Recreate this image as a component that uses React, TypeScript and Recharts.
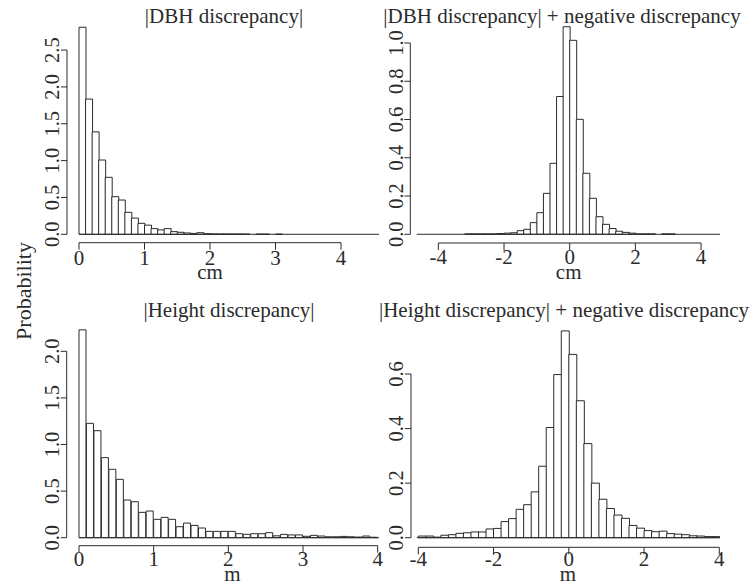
import React from "react";
import { BarChart, Bar, XAxis, YAxis, ReferenceLine } from "recharts";

const FONT = '"Liberation Serif", "Times New Roman", serif';
const INK = "#2b2b2b";

// |DBH discrepancy| (cm), bins of 0.1 starting at 0
const dbhAbsStart = 0;
const dbhAbsWidth = 0.1;
const dbhAbsDensity = [
  2.81, 1.835, 1.39, 1.008, 0.773, 0.51, 0.465, 0.298, 0.22, 0.149,
  0.124, 0.077, 0.059, 0.077, 0.036, 0.027, 0.018, 0.012, 0.022, 0.008,
  0.005, 0.004, 0.004, 0.003, 0.003, 0.002, 0, 0.002, 0.002, 0, 0.002,
];

// |DBH discrepancy| + negative discrepancy (cm), bins of 0.2 starting at -3.2
const dbhSignedStart = -3.2;
const dbhSignedWidth = 0.2;
const dbhSignedDensity = [
  0.002, 0.002, 0.002, 0.002, 0.002, 0.004, 0.006, 0.008, 0.019, 0.026,
  0.061, 0.113, 0.214, 0.371, 0.72, 1.085, 1.014, 0.601, 0.319, 0.188,
  0.092, 0.052, 0.03, 0.016, 0.01, 0.006, 0.002, 0.002, 0.002, 0, 0.002, 0.002,
];

// |Height discrepancy| (m), bins of 0.1 starting at 0
const heightAbsStart = 0;
const heightAbsWidth = 0.1;
const heightAbsDensity = [
  2.23, 1.227, 1.148, 0.859, 0.734, 0.626, 0.404, 0.386, 0.272, 0.286,
  0.197, 0.218, 0.197, 0.118, 0.157, 0.132, 0.104, 0.068, 0.068, 0.068,
  0.068, 0.043, 0.036, 0.043, 0.043, 0.054, 0.02, 0.036, 0.03, 0.03,
  0.015, 0.025, 0.018, 0.01, 0.01, 0.014, 0.01, 0.007, 0.018, 0.005,
];

// |Height discrepancy| + negative discrepancy (m), bins of 0.2 starting at -4
const heightSignedStart = -4;
const heightSignedWidth = 0.2;
const heightSignedDensity = [
  0.006, 0.006, 0.002, 0.009, 0.011, 0.016, 0.018, 0.021, 0.021, 0.032,
  0.034, 0.059, 0.07, 0.104, 0.121, 0.168, 0.262, 0.404, 0.598, 0.758,
  0.672, 0.502, 0.345, 0.2, 0.141, 0.107, 0.083, 0.071, 0.045, 0.035,
  0.026, 0.022, 0.024, 0.015, 0.013, 0.011, 0.007, 0.006, 0.004, 0.004,
];

const xTicksAbs = [0, 1, 2, 3, 4];
const xTicksSigned = [-4, -2, 0, 2, 4];
const yTicksDbhAbs = [0, 0.5, 1, 1.5, 2, 2.5];
const yTicksDbhSigned = [0, 0.2, 0.4, 0.6, 0.8, 1];
const yTicksHeightAbs = [0, 0.5, 1, 1.5, 2];
const yTicksHeightSigned = [0, 0.2, 0.4, 0.6];

const toBins = (start: number, width: number, density: number[]) =>
  density.map((p, i) => ({ mid: start + (i + 0.5) * width, p }));

interface PanelProps {
  data: { mid: number; p: number }[];
  left: number;
  top: number;
  width: number;
  height: number;
  marginTop: number;
  marginRight: number;
  yAxisWidth: number;
  xAxisHeight: number;
  xDomain: [number, number];
  yDomain: [number, number];
  xTicks: number[];
  yTicks: number[];
  baseline: [number, number];
  xLabelGap: number;
}

const Panel = (props: PanelProps) => {
  const {
    data, left, top, width, height, marginTop, marginRight,
    yAxisWidth, xAxisHeight, xDomain, yDomain, xTicks, yTicks, baseline, xLabelGap,
  } = props;

  const XTick = (t: any) => (
    <text
      x={t.x}
      y={t.y + xLabelGap - 7}
      textAnchor="middle"
      fill={INK}
      style={{ fontFamily: FONT, fontSize: 21 }}
    >
      {t.payload.value}
    </text>
  );

  const YTick = (t: any) => {
    const tx = t.x - 1.5;
    return (
      <text
        x={tx}
        y={t.y}
        transform={`rotate(-90 ${tx} ${t.y})`}
        textAnchor="middle"
        fill={INK}
        style={{ fontFamily: FONT, fontSize: 20.5 }}
      >
        {Number(t.payload.value).toFixed(1)}
      </text>
    );
  };

  return (
    <div style={{ position: "absolute", left, top, width, height }}>
      <BarChart
        width={width}
        height={height}
        data={data}
        margin={{ top: marginTop, right: marginRight, bottom: 0, left: 0 }}
        barCategoryGap={0}
        barGap={0}
      >
        <XAxis
          dataKey="mid"
          type="number"
          domain={xDomain}
          allowDataOverflow
          ticks={xTicks}
          interval={0}
          height={xAxisHeight}
          axisLine={false}
          tickLine={{ stroke: INK }}
          tickSize={7}
          tickMargin={0}
          tick={XTick}
        />
        <YAxis
          type="number"
          domain={yDomain}
          allowDataOverflow
          ticks={yTicks}
          interval={0}
          width={yAxisWidth}
          axisLine={false}
          tickLine={{ stroke: INK }}
          tickSize={6}
          tickMargin={0}
          tick={YTick}
        />
        <ReferenceLine
          segment={[{ x: baseline[0], y: 0 }, { x: baseline[1], y: 0 }]}
          stroke={INK}
          ifOverflow="visible"
        />
        <ReferenceLine
          segment={[
            { x: xTicks[0], y: yDomain[0] },
            { x: xTicks[xTicks.length - 1], y: yDomain[0] },
          ]}
          stroke={INK}
          ifOverflow="visible"
        />
        <ReferenceLine
          segment={[
            { x: xDomain[0], y: yTicks[0] },
            { x: xDomain[0], y: yTicks[yTicks.length - 1] },
          ]}
          stroke={INK}
          ifOverflow="visible"
        />
        <Bar dataKey="p" fill="#fff" stroke={INK} strokeWidth={1} isAnimationActive={false} />
      </BarChart>
    </div>
  );
};

const textStyle = { fontFamily: FONT, fill: INK };

export default function App() {
  return (
    <div
      style={{
        position: "absolute",
        left: 0,
        top: 0,
        width: 752,
        height: 588,
        background: "#fff",
        overflow: "hidden",
      }}
    >
      <Panel
        data={toBins(dbhAbsStart, dbhAbsWidth, dbhAbsDensity)}
        left={0}
        top={0}
        width={390}
        height={294}
        marginTop={20}
        marginRight={11}
        yAxisWidth={67}
        xAxisHeight={51.3}
        xDomain={[-0.1832, 4.58]}
        yDomain={[-0.114, 2.908]}
        xTicks={xTicksAbs}
        yTicks={yTicksDbhAbs}
        baseline={[0, 4.58]}
        xLabelGap={22}
      />
      <Panel
        data={toBins(dbhSignedStart, dbhSignedWidth, dbhSignedDensity)}
        left={376}
        top={0}
        width={376}
        height={294}
        marginTop={20}
        marginRight={32}
        yAxisWidth={34.3}
        xAxisHeight={51}
        xDomain={[-4.854, 4.577]}
        yDomain={[-0.0455, 1.1202]}
        xTicks={xTicksSigned}
        yTicks={yTicksDbhSigned}
        baseline={[-4.66, 4.577]}
        xLabelGap={21}
      />
      <Panel
        data={toBins(heightAbsStart, heightAbsWidth, heightAbsDensity)}
        left={0}
        top={294}
        width={390}
        height={294}
        marginTop={31}
        marginRight={11}
        yAxisWidth={66.7}
        xAxisHeight={42.3}
        xDomain={[-0.1647, 4.0177]}
        yDomain={[-0.0858, 2.282]}
        xTicks={xTicksAbs}
        yTicks={yTicksHeightAbs}
        baseline={[0, 4.0177]}
        xLabelGap={20}
      />
      <Panel
        data={toBins(heightSignedStart, heightSignedWidth, heightSignedDensity)}
        left={376}
        top={294}
        width={376}
        height={294}
        marginTop={31}
        marginRight={32}
        yAxisWidth={35}
        xAxisHeight={40.7}
        xDomain={[-4.194, 4.0186]}
        yDomain={[-0.0352, 0.7797]}
        xTicks={xTicksSigned}
        yTicks={yTicksHeightSigned}
        baseline={[-4.04, 4.0186]}
        xLabelGap={18.7}
      />
      <svg
        width={752}
        height={588}
        style={{ position: "absolute", left: 0, top: 0, pointerEvents: "none" }}
      >
        <text x={224} y={22.5} textAnchor="middle" fontSize={21} style={textStyle}>
          |DBH discrepancy|
        </text>
        <text x={562} y={22.5} textAnchor="middle" fontSize={21} style={textStyle}>
          |DBH discrepancy| + negative discrepancy
        </text>
        <text x={229} y={317} textAnchor="middle" fontSize={21} style={textStyle}>
          |Height discrepancy|
        </text>
        <text x={564} y={317} textAnchor="middle" fontSize={21} style={textStyle}>
          |Height discrepancy| + negative discrepancy
        </text>
        <text x={210} y={279} textAnchor="middle" fontSize={21} style={textStyle}>
          cm
        </text>
        <text x={568.7} y={279} textAnchor="middle" fontSize={21} style={textStyle}>
          cm
        </text>
        <text x={232.5} y={581} textAnchor="middle" fontSize={21} style={textStyle}>
          m
        </text>
        <text x={568} y={581} textAnchor="middle" fontSize={21} style={textStyle}>
          m
        </text>
        <text
          x={31}
          y={291}
          transform="rotate(-90 31 291)"
          textAnchor="middle"
          fontSize={22}
          style={textStyle}
        >
          Probability
        </text>
      </svg>
    </div>
  );
}
